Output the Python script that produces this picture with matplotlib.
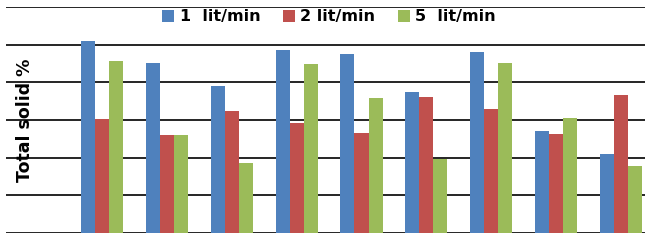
import matplotlib
matplotlib.use("Agg")
import matplotlib.pyplot as plt
import numpy as np
from matplotlib.patches import Patch

groups = ["1", "2", "3", "4", "5", "6", "7", "8", "9"]
series_names = ["1  lit/min", "2 lit/min", "5  lit/min"]
flow_1 = [5.09, 4.51, 3.90, 4.85, 4.75, 3.74, 4.80, 2.71, 2.10]
flow_2 = [3.02, 2.60, 3.24, 2.92, 2.65, 3.61, 3.29, 2.63, 3.66]
flow_5 = [4.56, 2.60, 1.86, 4.48, 3.58, 1.96, 4.51, 3.05, 1.78]
colors = ["#4F81BD", "#C0504D", "#9BBB59"]

fig = plt.figure(figsize=(6.51, 2.41), dpi=100)
W, H = 651, 241
ax = fig.add_axes([6 / W, (H - 233) / H, (645 - 6) / W, (233 - 7) / H])

x = np.arange(len(groups))
bw = 0.216
for i, (vals, c) in enumerate(zip([flow_1, flow_2, flow_5], colors)):
    ax.bar(x + (i - 1) * bw, vals, width=bw, color=c, zorder=3, linewidth=0)

ax.set_ylim(0, 6)
ax.set_xlim(-1.48, 8.37)
ax.set_yticks(np.arange(0, 7, 1))
ax.yaxis.grid(True, color="black", linewidth=1.2, zorder=0)
ax.set_xticks([])
ax.tick_params(axis="y", length=0, labelleft=False)
for s in ax.spines.values():
    s.set_visible(False)

fig.text(25 / W, 1 - 120 / H, "Total solid %", rotation=90, ha="center", va="center",
         fontsize=12.5, fontweight="bold", family="DejaVu Sans")

handles = [Patch(facecolor=c, edgecolor="none") for c in colors]
leg = ax.legend(handles, series_names, loc="center", bbox_to_anchor=(323 / 639, 1 - 10 / 226),
                ncol=3, frameon=False, handlelength=0.75, handleheight=0.75,
                handletextpad=0.35, columnspacing=1.4,
                prop={"family": "DejaVu Sans", "weight": "bold", "size": 11.5})

fig.savefig("out.png", dpi=100)
